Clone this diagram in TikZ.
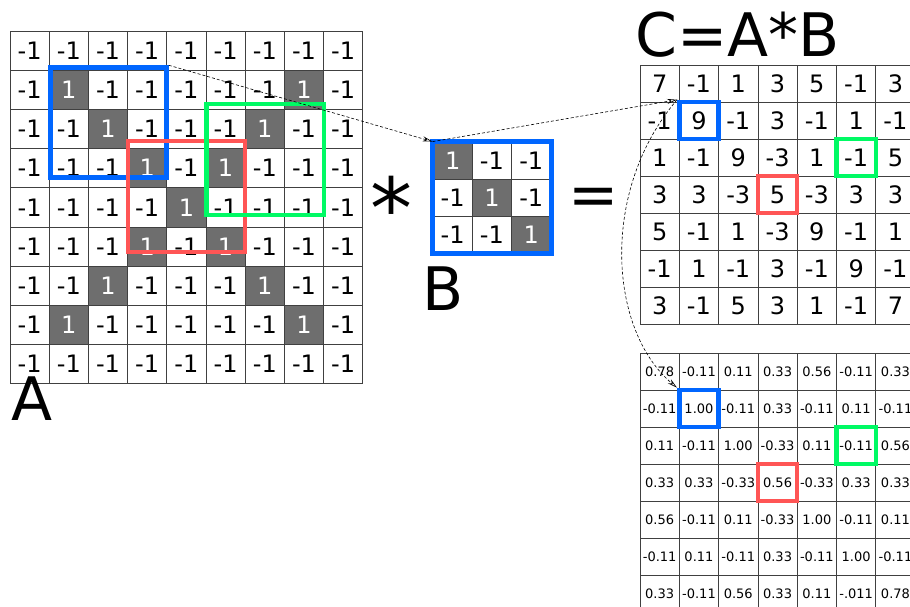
\documentclass[tikz,border=0pt]{standalone}
\usepackage{fontspec}
\setmainfont{DejaVu Sans}
\usetikzlibrary{arrows.meta}

\definecolor{winblue}{RGB}{0,102,255}
\definecolor{wingreen}{RGB}{0,250,100}
\definecolor{winred}{RGB}{255,85,85}
\definecolor{pix}{RGB}{110,110,110}

\tikzset{
    cell/.style={draw=black!75, line width=0.8pt, inner sep=0pt,
        minimum width=39.3pt, minimum height=37pt, font=\fontsize{24}{24}\selectfont},
    acell/.style={cell, minimum width=39.2pt, minimum height=39.2pt},
    ncell/.style={cell, font=\fontsize{13}{13}\selectfont},
    dark/.style={fill=pix, text=white},
    win/.style={draw=#1, line width=4.5pt, inner sep=0pt,
        minimum width=39.3pt, minimum height=37pt},
    big/.style={font=\fontsize{60}{60}\selectfont, inner sep=0pt, anchor=base west},
    link/.style={dash pattern=on 3pt off 2pt, line width=0.6pt,
        -{Stealth[open, length=10pt, width=5pt]}},
}

\begin{document}
\begin{tikzpicture}[x=1pt, y=-1pt]
    \useasboundingbox (0,0) rectangle (910,607);
    \clip (0,0) rectangle (910,607);

    % A: 9x9 image, ones on the X
    \foreach \r in {0,...,8}
        \foreach \c in {0,...,8} {
            \pgfmathtruncatemacro{\one}{and(or(\r==\c,\r+\c==8),and(\r>0,\r<8))}
            \ifnum\one=1
                \node[acell, dark] (a\r\c) at ({10+39.2*(\c+0.5)},{31+39.2*(\r+0.5)}) {1};
            \else
                \node[acell] (a\r\c) at ({10+39.2*(\c+0.5)},{31+39.2*(\r+0.5)}) {-1};
            \fi
        }
    \node[big] (labA) at (11,420) {A};

    % windows on A
    \node[win=winblue, minimum width=116pt, minimum height=110pt] (wa) at (108.5,122.5) {};
    \node[win=winred, minimum width=117pt, minimum height=111pt] (ra) at (186.5,196.5) {};
    \node[win=wingreen, minimum width=117.5pt, minimum height=111pt] (ga) at (265.3,159.5) {};

    % B: 3x3 kernel
    \foreach \r in {0,1,2}
        \foreach \c in {0,1,2} {
            \ifnum\r=\c
                \node[cell, dark] (b\r\c) at ({433+39.3*(\c+0.5)},{142+37*(\r+0.5)}) {1};
            \else
                \node[cell] (b\r\c) at ({433+39.3*(\c+0.5)},{142+37*(\r+0.5)}) {-1};
            \fi
        }
    \draw[winblue, line width=5pt] (b00.north west) rectangle (b22.south east);
    \node[big] (labB) at (422,310) {B};

    % operators
    \node[font=\fontsize{84}{84}\selectfont, inner sep=0pt, anchor=base] (times) at (391,238) {*};
    \node[font=\fontsize{60}{60}\selectfont, inner sep=0pt, anchor=base] (equals) at (594,215) {=};

    % C = A*B
    \node[big] (labC) at (635,57) {C=A*B};
    \foreach \row [count=\r from 0] in {{7,-1,1,3,5,-1,3},{-1,9,-1,3,-1,1,-1},
            {1,-1,9,-3,1,-1,5},{3,3,-3,5,-3,3,3},{5,-1,1,-3,9,-1,1},
            {-1,1,-1,3,-1,9,-1},{3,-1,5,3,1,-1,7}}
        \foreach \v [count=\c from 0] in \row
            \node[cell] (c\r\c) at ({640+39.3*(\c+0.5)},{65+37*(\r+0.5)}) {\v};

    % C divided by 9
    \foreach \row [count=\r from 0] in {{0.78,-0.11,0.11,0.33,0.56,-0.11,0.33},
            {-0.11,1.00,-0.11,0.33,-0.11,0.11,-0.11},{0.11,-0.11,1.00,-0.33,0.11,-0.11,0.56},
            {0.33,0.33,-0.33,0.56,-0.33,0.33,0.33},{0.56,-0.11,0.11,-0.33,1.00,-0.11,0.11},
            {-0.11,0.11,-0.11,0.33,-0.11,1.00,-0.11},{0.33,-0.11,0.56,0.33,0.11,-.011,0.78}}
        \foreach \v [count=\c from 0] in \row
            \node[ncell] (n\r\c) at ({640+39.3*(\c+0.5)},{353+37*(\r+0.5)}) {\v};

    % windows on C
    \node[win=winblue] (wc) at (c11) {};
    \node[win=wingreen] (gc) at (c25) {};
    \node[win=winred] (rc) at (c33) {};
    \node[win=winblue] (wn) at (n11) {};
    \node[win=wingreen] (gn) at (n25) {};
    \node[win=winred] (rn) at (n33) {};

    % links
    \draw[link] (wa.north east) -- (b00.north west);
    \draw[link] (b00.north west) -- (wc.north west);
    \draw[link] (wc.north west) .. controls +(-77,90) and +(-69,-58) .. (wn.north west);
\end{tikzpicture}
\end{document}
